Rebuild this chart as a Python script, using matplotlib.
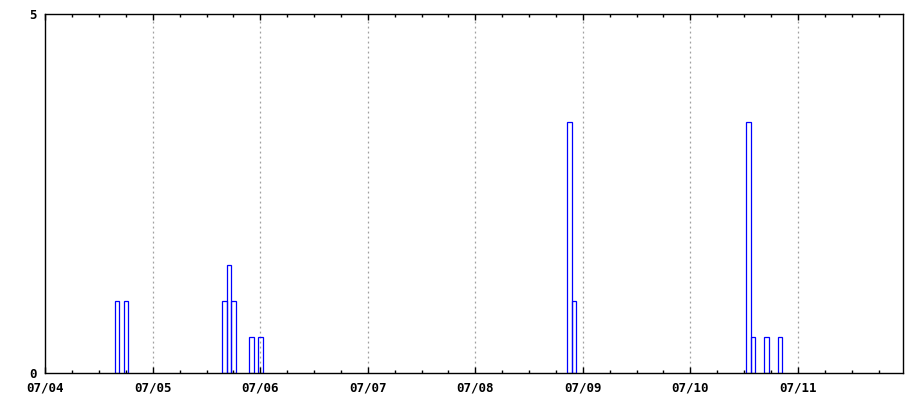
import matplotlib
matplotlib.use("Agg")
import matplotlib.pyplot as plt
from matplotlib.ticker import MultipleLocator

# hours counted from 07/04 00:00, value of each hourly box
hours = [16, 18, 40, 41, 42, 46, 48, 117, 118, 157, 158, 161, 164]
values = [1, 1, 1, 1.5, 1, 0.5, 0.5, 3.5, 1, 3.5, 0.5, 0.5, 0.5]
day_labels = ["07/04", "07/05", "07/06", "07/07", "07/08", "07/09", "07/10", "07/11"]
y_ticks = [0, 5]

fig = plt.figure(figsize=(9.2, 4.0), dpi=100)
ax = fig.add_axes([0.0492, 0.0675, 0.9320, 0.8975])

ax.bar(hours, values, width=1.0, align="center", fill=False,
       edgecolor="#0000ff", linewidth=0.9)

ax.set_xlim(0, 191.4)
ax.set_ylim(0, 5)

day_pos = [24 * i for i in range(len(day_labels))]
ax.set_xticks(day_pos)
ax.set_xticklabels(day_labels)
ax.xaxis.set_minor_locator(MultipleLocator(6))
ax.set_yticks(y_ticks)
ax.set_yticklabels([str(v) for v in y_ticks])

# dotted day grid
for p in day_pos[1:]:
    ax.axvline(p, color="#a0a0a0", linestyle=(0, (1.5, 2.5)), linewidth=0.9, zorder=0)

ax.tick_params(axis="x", which="major", direction="in", length=4, width=1,
               top=True, bottom=True, pad=6, labelsize=9)
ax.tick_params(axis="x", which="minor", direction="in", length=2.5, width=1,
               top=True, bottom=True)
ax.tick_params(axis="y", which="both", length=0, pad=6, labelsize=9)

for lab in ax.get_xticklabels() + ax.get_yticklabels():
    lab.set_fontfamily("DejaVu Sans Mono")
    lab.set_fontweight("bold")

for s in ax.spines.values():
    s.set_linewidth(1.0)
    s.set_color("black")

fig.savefig("out.png", dpi=100)
